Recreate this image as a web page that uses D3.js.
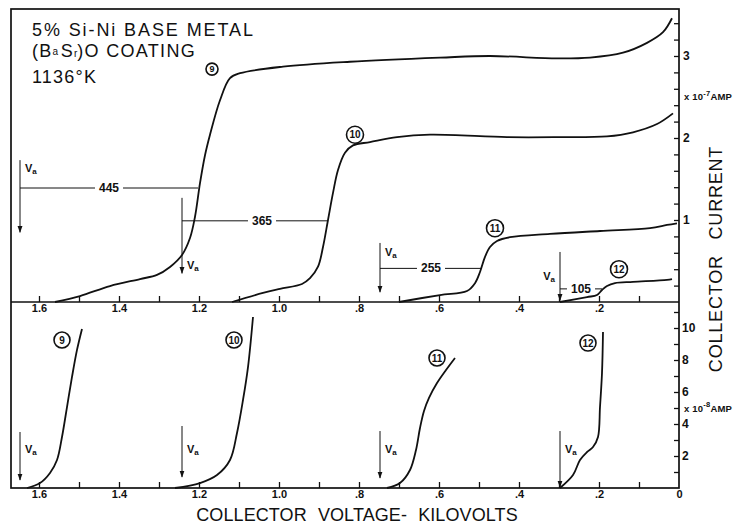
<!DOCTYPE html>
<html>
<head>
<meta charset="utf-8">
<script src="https://cdn.jsdelivr.net/npm/d3@7"></script>
<style>
  html, body { margin: 0; padding: 0; background: #fff; }
  svg { display: block; }
  text { font-family: "Liberation Sans", Arial, sans-serif; fill: #111; }
</style>
</head>
<body>
<svg id="chart" width="741" height="528"></svg>
<script>
// Collector voltage in kV; current in units of 1e-7 A (upper panel) and 1e-8 A (lower panel).
const voltTicks = d3.range(1, 17).map(d => d / 10);
const voltLabelsTop = [1.6, 1.4, 1.2, 1.0, 0.8, 0.6, 0.4, 0.2];
const voltLabelsBottom = [1.6, 1.4, 1.2, 1.0, 0.8, 0.6, 0.4, 0.2, 0];
const ampTicksTop = d3.range(1, 18).map(d => d / 5);
const ampLabelsTop = [1, 2, 3];
const ampTicksBottom = d3.range(1, 12);
const ampLabelsBottom = [2, 4, 6, 8, 10];

const runNames = ["9", "10", "11", "12"];

// Upper panel retarding curves: [kV, x1e-7 A]
const run9Top = [[1.56,0],[1.4975,0.073],[1.4225,0.195],[1.3475,0.28],[1.305,0.33],[1.2725,0.427],
  [1.2425,0.573],[1.2225,0.78],[1.21,1.04],[1.1975,1.45],[1.185,1.79],[1.1725,2.04],[1.1475,2.46],
  [1.1225,2.73],[1.0975,2.79],[0.99,2.87],[0.8225,2.93],[0.5975,2.98],[0.4725,3.0],[0.305,2.97],
  [0.2225,2.98],[0.14,3.04],[0.08,3.16],[0.04,3.29],[0.0175,3.46]];
const run10Top = [[1.1175,0],[1.04,0.11],[0.9975,0.16],[0.9425,0.22],[0.9225,0.29],[0.9025,0.43],
  [0.89,0.67],[0.8775,1.0],[0.865,1.33],[0.8525,1.61],[0.835,1.82],[0.815,1.91],[0.7725,1.95],
  [0.705,2.01],[0.6225,2.04],[0.43,2.01],[0.305,2.01],[0.18,2.02],[0.115,2.07],[0.055,2.17],[0.015,2.30]];
const run11Top = [[0.70,0],[0.5975,0.085],[0.53,0.134],[0.51,0.23],[0.4975,0.366],[0.485,0.55],
  [0.4725,0.67],[0.455,0.744],[0.4225,0.79],[0.3225,0.83],[0.1975,0.866],[0.0725,0.90],[0.03,0.94],[0.005,0.96]];
const run12Top = [[0.2975,0],[0.23,0.06],[0.205,0.085],[0.1925,0.146],[0.18,0.195],[0.16,0.23],
  [0.115,0.245],[0.03,0.27],[0.0175,0.28]];

// Lower panel, expanded current scale: [kV, x1e-8 A]
const run9Bottom = [[1.63,0],[1.5975,0.31],[1.5725,0.94],[1.555,1.75],[1.5425,3.19],[1.53,5.06],
  [1.5175,6.94],[1.505,8.63],[1.4925,9.94]];
const run10Bottom = [[1.26,0],[1.1975,0.31],[1.155,0.81],[1.1225,1.75],[1.105,3.44],[1.09,5.5],
  [1.0775,7.56],[1.065,10.69]];
const run11Bottom = [[0.73,0],[0.6975,0.31],[0.6725,1.125],[0.6575,2.375],[0.6475,3.75],[0.6375,4.81],
  [0.625,5.63],[0.605,6.56],[0.5825,7.375],[0.56,8.13]];
const run12Bottom = [[0.2975,0],[0.265,0.81],[0.2475,1.75],[0.23,2.25],[0.215,2.56],[0.2025,3.19],
  [0.1975,5.06],[0.1925,7.19],[0.19,9.75]];

// Applied potential Va (kV) and the measured shift to the break point (V)
const vaVolt = [1.6475, 1.2425, 0.7475, 0.2975];
const shiftVolts = [445, 365, 255, 105];
const shiftAmp = [1.39, 0.99, 0.41, 0.16];
const vaTopSpan = [[1.73, 0.85], [1.27, 0.35], [0.72, 0.12], [0.61, 0.02]];
const vaBottomSpan = [[3.5, 0.5], [3.875, 0.69], [3.56, 0.625], [3.56, 0.06]];
const vaTopLabelSide = [1, 1, 1, -1];

// Run tags (circled numbers), anchored in data coordinates
const tagTopVolt = [1.1675, 0.81, 0.46, 0.15];
const tagTopAmp = [2.84, 2.04, 0.90, 0.40];
const tagBottomVolt = [1.5425, 1.1125, 0.605, 0.2275];
const tagBottomAmp = [9.25, 9.25, 8.125, 9.06];

const svg = d3.select("#chart");
const frameL = 11, frameR = 679, frameT = 9, frameMid = 302, frameB = 488;

const x = d3.scaleLinear().domain([1.67, 0]).range([frameL, frameR]);
const yTop = d3.scaleLinear().domain([0, 3.573]).range([frameMid, frameT]);
const yBot = d3.scaleLinear().domain([0, 11.625]).range([frameB, frameMid]);

const voltFmt = v => v === 0 ? "0" : (v >= 1 ? d3.format(".1f")(v) : "." + Math.round(v * 10));

// Marker for the Va arrows
svg.append("defs").append("marker")
  .attr("id", "arrow").attr("viewBox", "0 0 10 10").attr("refX", 9).attr("refY", 5)
  .attr("markerWidth", 7).attr("markerHeight", 7).attr("markerUnits", "userSpaceOnUse")
  .attr("orient", "auto")
  .append("path").attr("d", "M0,1.5 L10,5 L0,8.5 Z").attr("fill", "#111");

// Frame
svg.append("rect").attr("x", frameL).attr("y", frameT).attr("width", frameR - frameL).attr("height", frameB - frameT)
  .attr("fill", "none").attr("stroke", "#111").attr("stroke-width", 1.7);
svg.append("line").attr("x1", frameL).attr("x2", frameR).attr("y1", frameMid).attr("y2", frameMid)
  .attr("stroke", "#111").attr("stroke-width", 1.7);

function styleAxis(g) {
  g.select(".domain").remove();
  g.selectAll(".tick line").attr("stroke", "#111").attr("stroke-width", 1.3);
  g.selectAll(".tick text").attr("font-size", 11).attr("font-weight", "bold")
    .attr("font-family", "\"Liberation Sans\", Arial, sans-serif").attr("fill", "#111");
}

// Voltage axes (ticks point inward)
svg.append("g").attr("transform", `translate(0,${frameMid})`)
  .call(d3.axisBottom(x).tickValues(voltTicks).tickSizeInner(-6).tickSizeOuter(0).tickPadding(2)
    .tickFormat(v => voltLabelsTop.some(l => Math.abs(l - v) < 1e-9) ? voltFmt(v) : ""))
  .call(styleAxis);
svg.append("g").attr("transform", `translate(0,${frameB})`)
  .call(d3.axisBottom(x).tickValues(voltTicks.concat([0])).tickSizeInner(-6).tickSizeOuter(0).tickPadding(2)
    .tickFormat(v => voltLabelsBottom.some(l => Math.abs(l - v) < 1e-9) ? voltFmt(v) : ""))
  .call(styleAxis)
  .call(g => g.selectAll(".tick").filter(d => d === 0).select("line").remove());

// Current axes on the right edge
svg.append("g").attr("transform", `translate(${frameR},0)`)
  .call(d3.axisRight(yTop).tickValues(ampTicksTop).tickSizeInner(-5).tickSizeOuter(0).tickPadding(4)
    .tickFormat(v => ampLabelsTop.some(l => Math.abs(l - v) < 1e-9) ? d3.format("d")(v) : ""))
  .call(styleAxis)
  .call(g => g.selectAll(".tick text").attr("font-size", 12));
svg.append("g").attr("transform", `translate(${frameR},0)`)
  .call(d3.axisRight(yBot).tickValues(ampTicksBottom).tickSizeInner(-5).tickSizeOuter(0).tickPadding(3)
    .tickFormat(v => ampLabelsBottom.includes(v) ? d3.format("d")(v) : ""))
  .call(styleAxis)
  .call(g => g.selectAll(".tick text").attr("font-size", 12));

// Unit notes beside the current axes
function unitNote(cy, exp) {
  const t = svg.append("text").attr("x", 684).attr("y", cy + 3.5)
    .attr("font-size", 9.5).attr("font-weight", "bold").attr("letter-spacing", 0.2);
  t.append("tspan").text("x 10");
  t.append("tspan").attr("dy", -4.5).attr("font-size", 7.5).text("-" + exp);
  t.append("tspan").attr("dy", 4.5).text("AMP");
}
unitNote(yTop(2.5), "7");
unitNote(yBot(5), "8");

// Curves
const lineTop = d3.line().x(d => x(d[0])).y(d => yTop(d[1])).curve(d3.curveCatmullRom.alpha(0.5));
const lineBot = d3.line().x(d => x(d[0])).y(d => yBot(d[1])).curve(d3.curveCatmullRom.alpha(0.5));
[run9Top, run10Top, run11Top, run12Top].forEach(r =>
  svg.append("path").attr("d", lineTop(r)).attr("fill", "none").attr("stroke", "#111").attr("stroke-width", 1.8));
[run9Bottom, run10Bottom, run11Bottom, run12Bottom].forEach(r =>
  svg.append("path").attr("d", lineBot(r)).attr("fill", "none").attr("stroke", "#111").attr("stroke-width", 1.8));

// "Va" label with subscript
function vaLabel(px, py, anchor) {
  const t = svg.append("text").attr("x", px).attr("y", py).attr("font-size", 11)
    .attr("font-weight", "bold").attr("text-anchor", anchor);
  t.append("tspan").text("V");
  t.append("tspan").attr("font-size", 8).attr("dy", 2).text("a");
}

// Va arrows and the shift dimension lines, upper panel
vaVolt.forEach((v, i) => {
  const vx = x(v);
  svg.append("line").attr("x1", vx).attr("x2", vx)
    .attr("y1", yTop(vaTopSpan[i][0])).attr("y2", yTop(vaTopSpan[i][1]))
    .attr("stroke", "#111").attr("stroke-width", 1).attr("marker-end", "url(#arrow)");
  const side = vaTopLabelSide[i];
  const ly = i === 0 ? yTop(vaTopSpan[i][0]) + 12 :
             i === 1 ? yTop(vaTopSpan[i][1]) - 4 :
             i === 2 ? yTop(vaTopSpan[i][0]) + 13 : yTop(vaTopSpan[i][0]) + 28;
  vaLabel(vx + side * 5, ly, side > 0 ? "start" : "end");

  // dimension line from Va to the break point, broken around its label
  const ex = x(v - shiftVolts[i] / 1000);
  const ly2 = yTop(shiftAmp[i]);
  const cx = (vx + ex) / 2 + (i === 1 ? 7 : 0);
  const lab = svg.append("text").attr("x", cx).attr("y", ly2 + 4).attr("text-anchor", "middle")
    .attr("font-size", 12).attr("font-weight", "bold").text(shiftVolts[i]);
  const half = lab.node().getComputedTextLength() / 2 + 4;
  svg.append("line").attr("x1", vx).attr("x2", cx - half).attr("y1", ly2).attr("y2", ly2)
    .attr("stroke", "#111").attr("stroke-width", 1);
  svg.append("line").attr("x1", cx + half).attr("x2", ex).attr("y1", ly2).attr("y2", ly2)
    .attr("stroke", "#111").attr("stroke-width", 1);
});

// Va arrows, lower panel
vaVolt.forEach((v, i) => {
  const vx = x(v);
  svg.append("line").attr("x1", vx).attr("x2", vx)
    .attr("y1", yBot(vaBottomSpan[i][0])).attr("y2", yBot(vaBottomSpan[i][1]))
    .attr("stroke", "#111").attr("stroke-width", 1).attr("marker-end", "url(#arrow)");
  vaLabel(vx + 5, yBot(2.2), "start");
});

// Circled run numbers
function tag(px, py, r, label, fs) {
  svg.append("circle").attr("cx", px).attr("cy", py).attr("r", r)
    .attr("fill", "#fff").attr("stroke", "#111").attr("stroke-width", 1.6);
  svg.append("text").attr("x", px).attr("y", py + fs * 0.36).attr("text-anchor", "middle")
    .attr("font-size", fs).attr("font-weight", "bold").text(label);
}
runNames.forEach((n, i) => {
  tag(x(tagTopVolt[i]), yTop(tagTopAmp[i]), i === 0 ? 6 : 8.5, n, i === 0 ? 9 : 10);
  tag(x(tagBottomVolt[i]), yBot(tagBottomAmp[i]), 8, n, 10);
});

// Headings
const head = svg.append("g").attr("font-size", 18).attr("letter-spacing", 1.9);
head.append("text").attr("x", 32).attr("y", 36).text("5% Si-Ni BASE METAL");
const coat = head.append("text").attr("x", 32).attr("y", 57).attr("letter-spacing", 1.3);
coat.append("tspan").text("(B");
coat.append("tspan").attr("font-size", 10).attr("dy", -2).attr("letter-spacing", 0.5).text("a");
coat.append("tspan").attr("dy", 2).attr("dx", 2).text("S");
coat.append("tspan").attr("font-size", 10).attr("letter-spacing", 0).text("r");
coat.append("tspan").text(")O COATING");
head.append("text").attr("x", 32).attr("y", 83).attr("letter-spacing", 1.2).text("1136°K");

svg.append("text").attr("x", 357).attr("y", 521).attr("text-anchor", "middle")
  .attr("font-size", 18).attr("letter-spacing", 0.1).attr("word-spacing", 6)
  .text("COLLECTOR VOLTAGE- KILOVOLTS");
svg.append("text").attr("transform", "translate(722,259) rotate(-90)").attr("text-anchor", "middle")
  .attr("font-size", 18).attr("letter-spacing", 0.8).attr("word-spacing", 10)
  .text("COLLECTOR CURRENT");
</script>
</body>
</html>
